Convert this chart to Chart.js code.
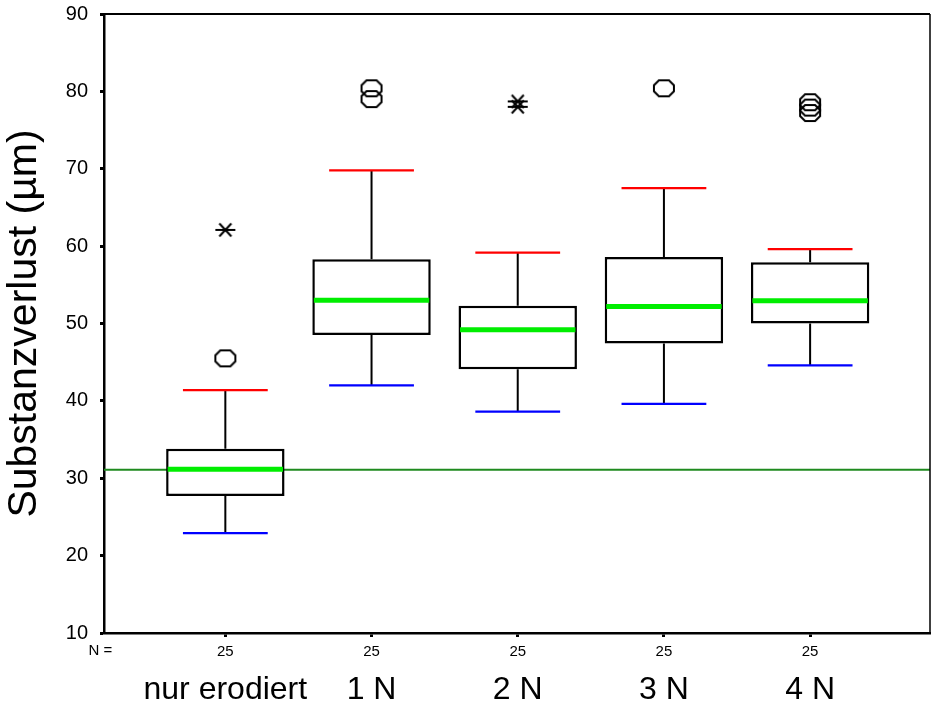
<!DOCTYPE html>
<html><head><meta charset="utf-8">
<script src="https://cdn.jsdelivr.net/npm/chart.js@4.4.1/dist/chart.umd.min.js"></script>
<style>html,body{margin:0;padding:0;background:#fff;overflow:hidden}#wrap{width:932px;height:709px}</style>
</head><body><div id="wrap"><canvas id="c" width="932" height="709"></canvas></div>
<script>
// ---- data ----
const categories = ['nur erodiert', '1 N', '2 N', '3 N', '4 N'];
const nCounts = [25, 25, 25, 25, 25];
const q1 = [27.7, 48.5, 44.1, 47.4, 50.0];
const median = [31.15, 53.0, 49.2, 52.2, 52.95];
const q3 = [33.8, 58.3, 52.3, 58.6, 57.9];
const whiskerLow = [22.9, 42.0, 38.6, 39.6, 44.6];
const whiskerHigh = [41.4, 69.8, 59.15, 67.5, 59.6];
const outlierCircles = [[45.5], [80.4, 79.0], [], [80.4], [78.6, 77.9, 77.2]];
const outlierStars = [[62.1], [], [78.7, 78.0], [], []];
const referenceValue = 31.1;
const yMin = 10, yMax = 90, yStep = 10;
const xMin = -0.83, xMax = 4.82;

const FONT = "'Liberation Sans', Arial, sans-serif";

function makeCircle() {
  const c = document.createElement('canvas'); c.width = 24; c.height = 20;
  const g = c.getContext('2d'); g.strokeStyle = '#000'; g.lineWidth = 2;
  const w = 20, h = 16, ox = 2, oy = 2, k = 5;
  g.beginPath();
  g.moveTo(ox + k, oy); g.lineTo(ox + w - k, oy); g.lineTo(ox + w, oy + k); g.lineTo(ox + w, oy + h - k);
  g.lineTo(ox + w - k, oy + h); g.lineTo(ox + k, oy + h); g.lineTo(ox, oy + h - k); g.lineTo(ox, oy + k);
  g.closePath(); g.stroke();
  return c;
}
function makeStar() {
  const c = document.createElement('canvas'); c.width = 24; c.height = 18;
  const g = c.getContext('2d'); g.strokeStyle = '#000'; g.lineWidth = 2;
  g.beginPath();
  g.moveTo(2, 9); g.lineTo(22, 9);
  g.moveTo(6, 2.5); g.lineTo(18, 15.5);
  g.moveTo(18, 2.5); g.lineTo(6, 15.5);
  g.stroke();
  return c;
}
const circleImg = makeCircle();
const starImg = makeStar();

const circlePts = [];
outlierCircles.forEach((arr, i) => arr.forEach(v => circlePts.push({ x: i, y: v })));
const starPts = [];
outlierStars.forEach((arr, i) => arr.forEach(v => starPts.push({ x: i, y: v })));

const boxPlugin = {
  id: 'boxParts',
  afterDatasetsDraw(chart) {
    const ctx = chart.ctx, xs = chart.scales.x, ys = chart.scales.y;
    const meta = chart.getDatasetMeta(1);
    ctx.save();
    categories.forEach((c, i) => {
      const cx = xs.getPixelForValue(i);
      ctx.strokeStyle = '#000'; ctx.lineWidth = 2;
      ctx.beginPath();
      ctx.moveTo(cx, ys.getPixelForValue(q3[i])); ctx.lineTo(cx, ys.getPixelForValue(whiskerHigh[i]));
      ctx.moveTo(cx, ys.getPixelForValue(q1[i])); ctx.lineTo(cx, ys.getPixelForValue(whiskerLow[i]));
      ctx.stroke();
      const l = xs.getPixelForValue(i - 0.29), r = xs.getPixelForValue(i + 0.29);
      ctx.lineWidth = 2.2;
      ctx.strokeStyle = '#ff0000';
      ctx.beginPath(); ctx.moveTo(l, ys.getPixelForValue(whiskerHigh[i])); ctx.lineTo(r, ys.getPixelForValue(whiskerHigh[i])); ctx.stroke();
      ctx.strokeStyle = '#0000ff';
      ctx.beginPath(); ctx.moveTo(l, ys.getPixelForValue(whiskerLow[i])); ctx.lineTo(r, ys.getPixelForValue(whiskerLow[i])); ctx.stroke();
      const el = meta.data[i];
      const hw = el.width / 2 - 1.5;
      ctx.strokeStyle = '#00ee00'; ctx.lineWidth = 5;
      ctx.beginPath(); ctx.moveTo(el.x - hw, ys.getPixelForValue(median[i])); ctx.lineTo(el.x + hw, ys.getPixelForValue(median[i])); ctx.stroke();
    });
    ctx.restore();
  },
  afterDraw(chart) {
    const ctx = chart.ctx, a = chart.chartArea, xs = chart.scales.x;
    ctx.save();
    ctx.strokeStyle = '#000';
    ctx.lineWidth = 2;
    ctx.beginPath(); ctx.moveTo(a.left, a.top); ctx.lineTo(a.right, a.top); ctx.stroke();
    ctx.lineWidth = 1.5;
    ctx.beginPath(); ctx.moveTo(a.right, a.top); ctx.lineTo(a.right, a.bottom); ctx.stroke();
    ctx.fillStyle = '#000';
    ctx.font = '15px ' + FONT;
    ctx.textAlign = 'center'; ctx.textBaseline = 'top';
    ctx.fillText('N =', a.left - 3.5, xs.top + 10);
    ctx.restore();
  }
};

const fixedTicks = (scale) => { scale.ticks = categories.map((c, i) => ({ value: i })); };

new Chart(document.getElementById('c'), {
  type: 'bar',
  data: {
    datasets: [
      { type: 'line', data: [{ x: xMin, y: referenceValue }, { x: xMax, y: referenceValue }],
        borderColor: '#1f8a1f', borderWidth: 2, pointRadius: 0, order: 3 },
      { type: 'bar', data: categories.map((c, i) => ({ x: i, y: [q1[i], q3[i]] })),
        backgroundColor: '#ffffff', borderColor: '#000000', borderWidth: 2.5, borderSkipped: false,
        barPercentage: 0.81, categoryPercentage: 1, order: 2 },
      { type: 'scatter', data: circlePts, pointStyle: circleImg, pointRadius: 10, order: 1 },
      { type: 'scatter', data: starPts, pointStyle: starImg, pointRadius: 10, order: 1 }
    ]
  },
  options: {
    responsive: false, animation: false, devicePixelRatio: 1,
    layout: { autoPadding: false, padding: { top: 14, right: 2, left: 0, bottom: 0 } },
    plugins: { legend: { display: false }, tooltip: { enabled: false } },
    scales: {
      x: {
        type: 'linear', min: xMin, max: xMax, position: 'bottom', weight: 0, offset: false,
        afterBuildTicks: fixedTicks,
        afterFit: s => { s.height = 26; s.paddingLeft = 0; s.paddingRight = 0; },
        ticks: { callback: (v, idx) => String(nCounts[idx]), font: { family: FONT, size: 15 }, color: '#000', padding: 6, maxRotation: 0, autoSkip: false },
        grid: { offset: false, drawOnChartArea: false, drawTicks: true, tickLength: 4, tickWidth: 3, color: '#000' },
        border: { display: true, color: '#000', width: 2.5 }
      },
      x2: {
        type: 'linear', min: xMin, max: xMax, position: 'bottom', weight: 1, offset: false,
        afterBuildTicks: fixedTicks,
        afterFit: s => { s.height = 50; s.paddingLeft = 0; s.paddingRight = 0; },
        ticks: { callback: (v, idx) => categories[idx], font: { family: FONT, size: 32 }, color: '#000', padding: 12, maxRotation: 0, autoSkip: false },
        grid: { display: false, drawTicks: false, offset: false },
        border: { display: false }
      },
      y: {
        type: 'linear', min: yMin, max: yMax,
        afterFit: s => { s.width = 104; s.paddingTop = 0; s.paddingBottom = 0; },
        ticks: { stepSize: yStep, font: { family: FONT, size: 20 }, color: '#000', padding: 12 },
        grid: { drawOnChartArea: false, drawTicks: true, tickLength: 4, tickWidth: 3, color: '#000' },
        border: { display: true, color: '#000', width: 2.5 },
        title: { display: true, text: 'Substanzverlust (µm)', font: { family: FONT, size: 41 }, color: '#000', padding: 0 }
      }
    }
  },
  plugins: [boxPlugin]
});
</script>
</body></html>
